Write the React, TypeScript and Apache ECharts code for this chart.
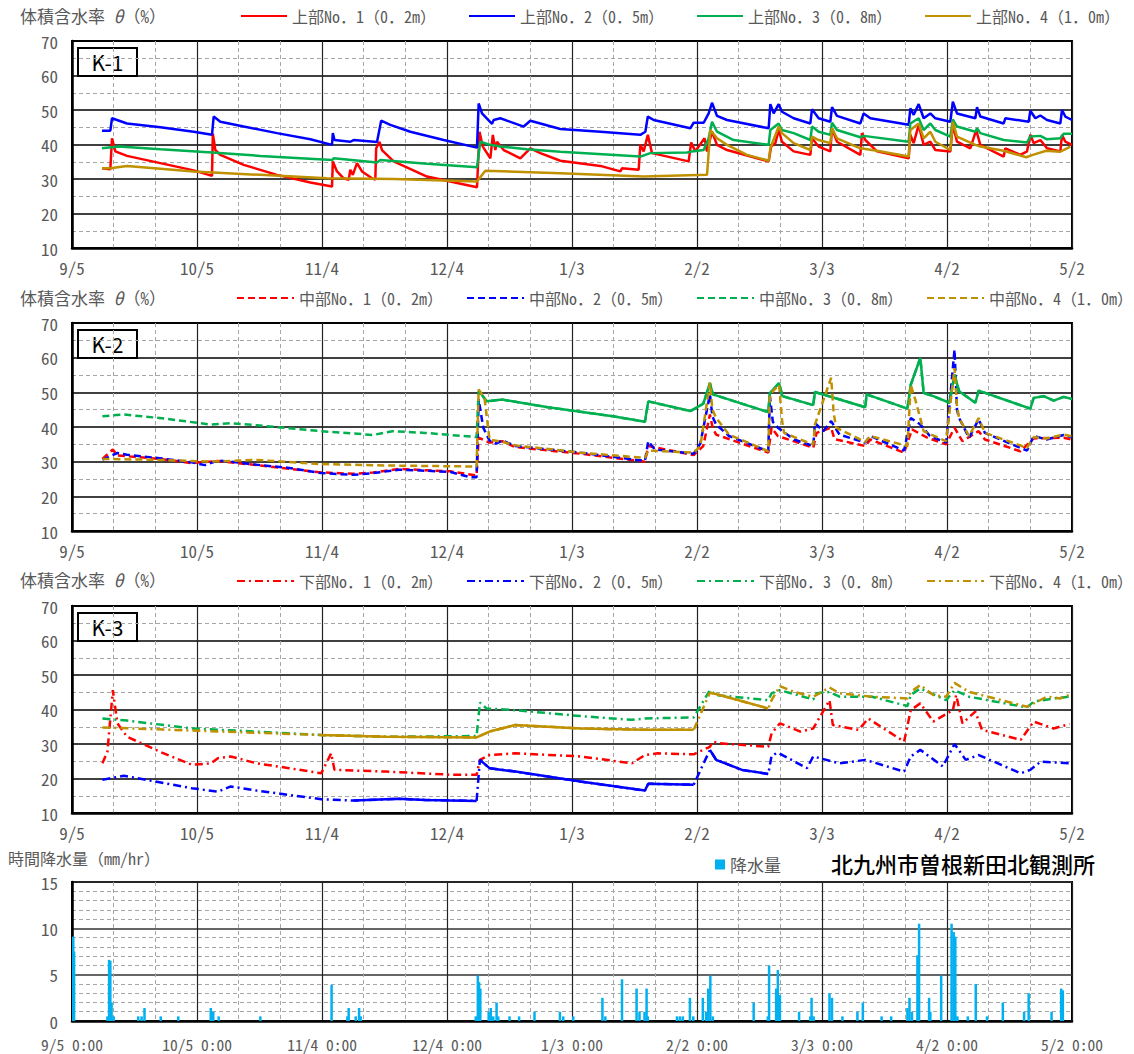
import React, { useEffect, useRef } from "react";
import * as echarts from "echarts";

// x = days since 9/5 0:00 (tick every 30 days)
const DAY_TICKS = ["9/5", "10/5", "11/4", "12/4", "1/3", "2/2", "3/3", "4/2", "5/2"];
const RAIN_TICKS = ["9/5 0:00", "10/5 0:00", "11/4 0:00", "12/4 0:00", "1/3 0:00", "2/2 0:00", "3/3 0:00", "4/2 0:00", "5/2 0:00"];

const K1_NAMES = ["上部No．1（0．2m）", "上部No．2（0．5m）", "上部No．3（0．8m）", "上部No．4（1．0m）"];
const K2_NAMES = ["中部No．1（0．2m）", "中部No．2（0．5m）", "中部No．3（0．8m）", "中部No．4（1．0m）"];
const K3_NAMES = ["下部No．1（0．2m）", "下部No．2（0．5m）", "下部No．3（0．8m）", "下部No．4（1．0m）"];
const RAIN_NAME = "降水量";

// ---- K-1 (upper) ----
const k1No1 = [[7.2,33.1],[9.2,32.8],[9.6,41.8],[10.0,39.9],[10.4,38.0],[13.2,36.7],[21.2,34.6],[29.2,32.5],[33.6,30.9],[33.8,43.1],[34.4,38.4],[35.6,37.0],[41.2,34.1],[49.2,31.2],[57.2,29.0],[62.4,27.8],[62.6,35.1],[63.6,32.2],[65.2,30.2],[66.4,29.8],[66.8,32.7],[67.4,31.2],[68.4,34.6],[69.6,32.2],[72.0,30.2],[72.8,29.8],[73.0,38.9],[73.8,40.8],[74.4,38.4],[77.2,35.1],[85.2,30.7],[97.2,27.6],[97.8,43.7],[98.6,39.4],[100.4,36.0],[101.0,42.8],[101.6,38.4],[102.0,40.8],[103.6,38.4],[107.6,36.0],[110.0,38.9],[112.4,37.5],[117.2,35.3],[126.8,33.8],[131.6,32.2],[132.0,33.1],[136.0,32.7],[136.4,39.9],[137.2,38.0],[138.2,42.8],[139.2,37.5],[148.0,35.1],[148.6,40.6],[149.6,38.0],[151.8,41.8],[152.4,38.0],[153.6,43.7],[154.8,39.9],[157.2,38.4],[167.2,35.1],[167.8,39.4],[168.8,40.4],[169.6,44.2],[170.4,40.8],[173.2,38.0],[177.2,37.0],[177.6,41.8],[179.2,39.4],[182.0,38.0],[182.4,44.7],[183.6,40.8],[189.2,37.0],[189.6,43.3],[190.4,41.3],[193.2,38.0],[200.8,36.0],[201.2,42.8],[202.0,40.4],[203.2,45.7],[204.4,39.9],[206.0,40.8],[207.2,38.4],[210.8,38.0],[211.4,45.7],[212.4,40.8],[215.6,38.9],[217.0,44.2],[218.0,39.9],[223.6,36.5],[224.0,38.9],[227.6,37.0],[229.2,38.0],[230.0,42.8],[230.8,40.4],[232.4,41.3],[234.0,38.9],[237.2,38.0],[237.6,42.8],[238.4,40.8],[240.0,39.9]];
const k1No2 = [[7.2,44.0],[9.2,44.0],[9.6,47.6],[10.8,47.1],[13.2,46.1],[21.2,45.0],[29.2,43.7],[33.6,42.8],[34.0,48.1],[35.6,46.6],[41.2,45.2],[49.2,43.3],[57.2,41.5],[62.4,39.9],[62.6,43.3],[63.0,41.3],[66.8,40.8],[67.6,41.3],[73.2,40.7],[74.2,46.9],[76.4,45.7],[81.2,43.7],[89.2,41.3],[97.2,39.1],[97.6,51.9],[98.4,49.0],[100.8,46.0],[101.2,47.1],[102.8,47.6],[108.4,45.2],[110.0,46.9],[117.2,44.5],[126.8,43.7],[136.4,42.8],[137.6,43.7],[138.2,48.1],[139.6,47.1],[148.4,44.7],[149.2,46.3],[151.6,46.3],[152.8,49.0],[153.6,52.1],[154.8,48.3],[157.2,47.1],[167.2,44.7],[167.6,51.7],[168.4,49.0],[169.6,51.7],[170.4,49.5],[173.2,47.6],[177.2,46.1],[177.6,50.2],[179.2,47.6],[182.0,46.6],[182.4,50.8],[183.6,48.3],[189.2,46.1],[190.0,49.0],[191.6,47.6],[200.8,45.7],[201.2,50.5],[202.0,48.6],[203.2,51.7],[204.4,47.6],[206.0,49.0],[207.2,47.6],[210.8,46.6],[211.4,52.4],[212.4,49.0],[216.8,47.6],[217.2,50.8],[218.0,48.1],[223.6,46.1],[224.0,47.6],[229.6,46.6],[230.0,49.8],[231.2,47.6],[232.4,48.4],[234.0,47.1],[237.2,46.1],[237.6,50.0],[238.4,48.1],[240.0,47.1]];
const k1No3 = [[7.2,38.9],[11.2,39.4],[21.2,38.6],[33.6,37.7],[45.2,36.7],[62.4,35.5],[62.8,36.0],[73.2,34.8],[74.0,35.5],[85.2,34.4],[97.2,33.4],[98.0,40.8],[100.4,39.9],[102.8,39.4],[109.2,38.6],[117.2,37.9],[136.4,36.5],[138.8,37.5],[147.6,37.7],[148.8,38.0],[151.6,38.4],[152.8,41.8],[153.6,46.6],[154.8,43.7],[158.8,41.3],[167.2,39.9],[167.6,44.2],[169.6,46.1],[170.4,44.2],[173.2,43.3],[177.2,41.3],[177.6,45.2],[179.2,43.7],[182.0,42.8],[182.4,46.3],[183.6,44.2],[189.2,42.1],[190.0,42.5],[200.8,40.8],[201.2,46.1],[203.2,47.6],[204.4,44.2],[206.0,46.1],[207.2,44.2],[210.8,42.3],[211.4,47.3],[212.4,45.2],[216.8,43.7],[217.2,44.7],[218.0,43.3],[223.6,41.3],[229.2,40.6],[230.0,42.3],[232.4,42.5],[234.0,41.5],[237.2,41.8],[238.0,43.1],[240.0,43.1]];
const k1No4 = [[7.2,33.1],[9.2,33.1],[13.2,33.8],[29.2,32.2],[45.2,31.2],[61.2,30.2],[77.2,30.0],[97.2,29.3],[99.2,32.4],[117.2,31.7],[137.2,30.7],[152.4,31.2],[153.2,44.2],[154.8,41.8],[157.2,39.9],[162.0,37.0],[167.2,35.3],[167.6,38.9],[169.6,45.2],[170.4,43.3],[173.2,40.4],[177.2,38.4],[177.6,42.3],[179.2,41.3],[182.0,40.4],[182.4,44.7],[183.6,41.8],[189.2,38.9],[193.2,38.2],[200.8,36.5],[201.2,44.2],[203.2,46.1],[204.4,41.8],[206.0,43.7],[207.2,40.8],[210.8,38.4],[211.4,46.6],[212.4,42.3],[216.8,39.9],[218.0,39.4],[223.6,38.2],[229.0,36.3],[230.6,37.0],[233.8,38.2],[237.2,37.9],[239.6,39.4]];

// ---- K-2 (middle) ----
const k2No1 = [[7.3,30.8],[9.8,33.5],[10.9,31.8],[21.0,30.8],[28.7,29.6],[35.0,30.2],[44.3,29.0],[59.8,26.9],[67.6,26.5],[72.3,26.9],[78.5,27.9],[90.9,27.2],[97.1,26.0],[97.6,36.9],[100.2,35.5],[103.3,35.9],[106.4,34.2],[122.0,32.3],[137.5,30.0],[138.3,34.5],[149.2,31.9],[151.5,34.5],[153.1,43.6],[153.8,39.5],[154.6,37.8],[167.1,32.6],[167.9,39.8],[169.4,37.4],[177.9,34.0],[178.7,38.3],[182.2,39.8],[183.0,36.5],[190.4,34.5],[191.6,36.4],[199.7,32.6],[201.6,39.3],[205.3,36.9],[209.8,35.0],[211.8,39.8],[213.7,35.9],[217.6,38.8],[219.1,36.4],[227.6,33.0],[230.8,36.7],[238.0,36.9],[240.0,36.4]];
const k2No2 = [[7.3,30.6],[10.9,32.5],[13.2,32.0],[21.0,31.0],[28.7,29.8],[31.9,29.0],[35.0,30.3],[38.1,30.0],[44.3,29.1],[52.1,28.2],[59.8,26.7],[67.6,26.2],[72.3,26.7],[78.5,27.7],[84.7,27.4],[90.9,27.0],[95.6,25.5],[97.1,25.5],[97.6,48.0],[98.7,39.8],[100.2,36.1],[101.8,35.2],[103.3,36.1],[106.4,34.5],[122.0,32.6],[137.5,30.2],[138.3,35.9],[139.9,33.5],[149.2,32.3],[150.8,35.2],[153.1,49.4],[153.7,43.0],[154.6,40.7],[157.7,37.4],[167.1,33.0],[167.5,48.9],[168.2,41.5],[169.4,39.8],[173.3,36.4],[177.9,34.5],[178.3,41.2],[180.3,38.8],[182.2,41.7],[184.2,37.8],[190.4,35.5],[191.6,37.4],[199.7,33.2],[201.3,42.6],[203.6,40.7],[205.9,37.4],[209.8,35.5],[211.8,62.3],[212.4,45.0],[212.9,42.6],[215.3,36.9],[217.6,42.2],[219.1,38.3],[229.2,33.2],[230.8,37.4],[233.9,36.4],[238.0,37.7],[240.0,37.1]];
const k2No3 = [[7.3,43.1],[12.4,43.6],[21.0,42.6],[33.4,40.7],[38.1,41.1],[44.3,40.5],[59.8,38.8],[72.3,37.7],[76.9,38.8],[84.7,38.3],[97.1,37.1],[97.6,50.5],[99.5,47.4],[103.3,47.9],[114.2,45.7],[129.8,43.1],[137.5,41.5],[138.3,47.4],[148.4,44.6],[151.5,46.7],[153.1,52.7],[153.8,49.4],[167.1,44.3],[167.5,49.8],[169.7,52.7],[170.5,48.9],[177.9,46.3],[178.3,50.1],[190.4,45.7],[190.7,49.4],[200.5,45.3],[201.3,52.2],[203.6,59.9],[204.4,49.8],[206.7,48.9],[210.6,47.0],[211.8,55.1],[212.9,50.3],[216.8,47.0],[217.6,50.5],[230.0,45.3],[230.8,48.4],[233.2,48.9],[235.6,47.6],[238.0,48.7],[240.0,48.1]];
const k2No4 = [[7.3,30.8],[21.0,30.5],[33.4,30.0],[44.3,30.5],[59.8,29.3],[75.4,28.9],[97.1,28.6],[97.6,50.8],[99.0,48.4],[100.2,36.4],[103.3,35.7],[106.4,34.7],[122.0,32.6],[137.5,31.1],[138.3,33.2],[149.2,32.6],[150.8,34.5],[153.1,52.7],[153.7,45.0],[154.6,42.6],[157.7,37.8],[167.1,33.0],[167.5,49.4],[169.7,52.2],[170.4,42.0],[170.9,38.3],[177.9,34.9],[178.3,40.7],[182.2,54.2],[182.8,44.0],[183.4,39.8],[190.4,35.7],[191.6,37.4],[200.5,34.5],[201.3,52.2],[202.5,47.4],[204.4,38.8],[209.8,35.9],[211.8,57.0],[212.4,46.0],[212.9,42.6],[215.3,37.4],[217.6,42.6],[219.1,38.3],[229.2,34.0],[230.8,37.1],[233.9,36.7],[238.0,37.8],[240.0,37.3]];

// ---- K-3 (lower) ----
const k3No1 = [[7.3,24.4],[8.5,27.8],[9.8,45.6],[10.9,36.0],[13.2,32.1],[21.0,27.8],[28.7,24.0],[33.4,24.4],[35.0,25.9],[38.1,26.4],[44.3,24.4],[52.1,23.0],[59.8,21.5],[62.2,27.3],[63.0,22.5],[75.4,22.0],[90.9,21.1],[97.1,21.1],[97.9,25.4],[100.2,26.8],[106.4,27.3],[122.0,26.4],[134.4,24.4],[137.5,26.8],[140.6,27.3],[149.2,27.0],[153.1,29.2],[153.8,30.7],[155.4,30.2],[167.1,29.2],[167.9,33.1],[169.9,36.0],[174.8,33.6],[177.9,34.5],[181.8,42.7],[182.6,35.5],[188.8,34.1],[191.1,37.4],[199.7,30.7],[201.3,39.8],[203.6,41.8],[206.7,36.5],[211.4,39.8],[212.2,44.2],[213.7,36.0],[216.8,39.4],[218.4,34.1],[227.7,31.2],[230.8,36.5],[235.6,34.5],[239.4,35.8]];
const k3No2 = [[7.3,19.6],[12.4,20.8],[28.7,17.2],[35.0,16.2],[38.1,17.7],[44.3,16.5],[59.8,14.0],[67.6,13.6],[78.5,14.1],[84.7,13.8],[97.1,13.5],[97.9,25.4],[100.2,23.0],[106.4,22.0],[122.0,19.1],[137.5,16.5],[138.3,18.5],[149.2,18.2],[153.1,28.3],[154.6,25.4],[160.8,22.5],[167.1,21.3],[167.9,26.6],[169.4,27.5],[176.4,23.0],[177.9,26.4],[184.2,24.4],[190.4,25.4],[199.7,22.0],[201.3,26.4],[203.6,28.3],[209.0,23.5],[211.8,30.0],[214.5,25.4],[217.6,26.8],[227.7,21.5],[230.0,22.5],[232.5,24.9],[239.4,24.4]];
const k3No3 = [[7.3,37.4],[13.2,36.8],[28.7,34.5],[44.3,33.6],[59.8,32.6],[75.4,32.1],[97.1,32.3],[97.9,42.0],[99.5,40.3],[106.4,39.8],[122.0,38.1],[134.4,37.0],[137.5,37.4],[149.2,37.7],[153.1,45.6],[154.6,44.2],[167.1,42.7],[167.9,44.7],[169.9,45.6],[177.9,42.9],[178.7,44.7],[181.8,45.1],[184.2,43.7],[192.0,43.7],[200.5,41.0],[201.3,44.2],[203.6,46.1],[209.8,42.7],[211.8,45.6],[215.3,43.7],[229.2,40.6],[230.8,42.3],[235.6,43.2],[239.4,43.7]];
const k3No4 = [[7.3,34.8],[28.7,33.9],[59.8,32.6],[75.4,32.1],[97.1,31.9],[100.2,33.6],[106.4,35.5],[114.2,35.0],[122.0,34.5],[137.5,34.1],[149.2,34.1],[153.1,44.9],[155.4,44.2],[167.1,40.3],[167.9,42.7],[169.9,46.8],[173.3,45.1],[177.9,43.7],[181.8,46.4],[184.2,44.7],[192.0,43.7],[200.5,43.2],[201.3,45.1],[203.6,47.1],[206.7,44.2],[209.8,43.7],[211.8,47.7],[215.3,45.1],[229.2,40.8],[234.0,43.7],[237.1,43.2],[239.4,44.2]];

// day ranges where the dense logger record reads as a continuous line
const K2_DENSE = [[], [], [[97.6, 240]], []];
const K3_DENSE = [[], [[67.6, 97.1], [97.9, 149.2], [153.1, 167.1]], [], [[59.8, 149.2], [153.1, 167.1]]];

// ---- hourly rainfall (mm/hr) ----
const rain = [[0.3,9.1],[0.5,7.5],[8.5,0.5],[8.9,6.6],[9.2,6.5],[9.5,2.0],[10.0,0.5],[15.9,0.5],[16.7,0.5],[17.4,1.4],[21.3,0.5],[25.5,0.5],[33.3,1.4],[33.9,1.0],[35.2,0.5],[45.2,0.5],[62.3,3.9],[66.1,0.5],[66.4,1.4],[68.1,0.5],[68.9,1.4],[69.3,0.5],[96.9,0.5],[97.4,4.9],[97.7,4.2],[98.0,3.5],[100.0,1.0],[100.5,1.4],[101.1,0.5],[101.9,2.0],[102.3,0.5],[105.0,0.5],[107.3,0.5],[111.0,1.0],[117.1,1.0],[117.9,0.5],[120.3,0.5],[127.3,2.5],[128.0,0.5],[132.0,4.5],[135.5,3.5],[136.2,1.0],[137.4,1.0],[137.9,3.5],[138.2,0.5],[145.2,0.5],[145.9,0.5],[146.6,0.5],[148.3,2.5],[149.1,0.5],[151.4,2.5],[152.2,1.0],[152.7,3.5],[153.2,4.9],[153.8,0.5],[163.6,2.0],[167.0,0.5],[167.3,6.0],[169.0,3.5],[169.4,5.5],[169.9,2.8],[174.5,1.0],[177.2,0.5],[177.5,2.5],[178.0,0.5],[181.8,3.0],[182.4,2.5],[184.9,0.5],[188.5,1.0],[189.8,2.0],[194.3,0.5],[196.6,0.5],[200.5,1.4],[201.0,2.5],[201.6,1.0],[202.9,7.1],[203.3,10.5],[205.7,2.5],[206.0,1.0],[208.6,4.9],[211.1,10.5],[211.6,9.6],[212.0,9.1],[212.5,0.5],[215.0,0.5],[216.9,4.0],[219.6,0.5],[223.4,2.0],[228.5,1.0],[229.6,3.0],[235.1,1.0],[237.4,3.5],[237.8,3.3]];

const COLORS = ["#ff0000", "#0000ff", "#00b050", "#bf9000"];
const RAIN_COLOR = "#00b0f0";
const FONT = '"Noto Sans Mono CJK JP", "Noto Sans CJK JP", monospace';
const GRAY = "#595959";

export default function App() {
  const ref = useRef<HTMLDivElement>(null);
  useEffect(() => {
    if (!ref.current) return;
    const chart = echarts.init(ref.current, undefined, { renderer: "svg" });

    const grids = [
      { top: 41, height: 207 },
      { top: 323, height: 208 },
      { top: 606, height: 207 },
      { top: 882, height: 139 },
    ].map((g) => ({ left: 72, width: 1000, top: g.top, height: g.height, show: true, borderColor: "#000", borderWidth: 2, backgroundColor: "#fff" }));

    const xAxes = [0, 1, 2, 3].map((i) => ({
      type: "value",
      gridIndex: i,
      min: 0,
      max: 240,
      interval: 30,
      axisLine: { show: true, lineStyle: { color: "#000", width: 2.5 } },
      axisTick: { show: false },
      minorTick: { show: false, splitNumber: 3 },
      splitLine: { show: true, lineStyle: { color: "#222", width: 1.2 } },
      minorSplitLine: { show: true, lineStyle: { color: "#a6a6a6", width: 1, type: [4, 3] } },
      axisLabel: {
        color: GRAY,
        fontFamily: FONT,
        fontSize: i === 3 ? 15.5 : 17,
        lineHeight: i === 3 ? 15 : 16,
        margin: i === 3 ? 15 : 11,
        showMinLabel: true,
        showMaxLabel: true,
        formatter: (v: number) => (i === 3 ? RAIN_TICKS : DAY_TICKS)[Math.round(v / 30)] ?? "",
      },
    }));

    const yAxes = [0, 1, 2, 3].map((i) => ({
      type: "value",
      gridIndex: i,
      min: i === 3 ? 0 : 10,
      max: i === 3 ? 15 : 70,
      interval: i === 3 ? 5 : 10,
      axisLine: { show: true, lineStyle: { color: "#000", width: 2.5 } },
      axisTick: { show: false },
      minorTick: { show: false, splitNumber: i === 3 ? 5 : 2 },
      splitLine: { show: true, lineStyle: { color: i === 3 ? "#333" : "#000", width: 1.5 } },
      minorSplitLine: { show: true, lineStyle: { color: "#a6a6a6", width: 1, type: [4, 3] } },
      axisLabel: { color: GRAY, fontFamily: FONT, fontSize: 17, lineHeight: 14, margin: 14 },
    }));

    const series: any[] = [];
    const mk = (names: string[], datas: number[][][], idx: number, dash: any, dense?: number[][][]) => {
      names.forEach((name, k) => {
        series.push({
          type: "line",
          name,
          data: datas[k],
          xAxisIndex: idx,
          yAxisIndex: idx,
          symbol: "none",
          showSymbol: false,
          lineStyle: { color: COLORS[k], width: 2.5, type: dash },
          itemStyle: { color: COLORS[k] },
          emphasis: { disabled: true },
        });
        (dense?.[k] ?? []).forEach(([a, b], j) => {
          series.push({
            type: "line",
            name: `${name}-dense${j}`,
            data: datas[k].filter((p) => p[0] >= a && p[0] <= b),
            xAxisIndex: idx,
            yAxisIndex: idx,
            symbol: "none",
            showSymbol: false,
            lineStyle: { color: COLORS[k], width: 2.5, type: "solid" },
            itemStyle: { color: COLORS[k] },
            emphasis: { disabled: true },
          });
        });
      });
    };
    mk(K1_NAMES, [k1No1, k1No2, k1No3, k1No4], 0, "solid");
    mk(K2_NAMES, [k2No1, k2No2, k2No3, k2No4], 1, [7, 4], K2_DENSE);
    mk(K3_NAMES, [k3No1, k3No2, k3No3, k3No4], 2, [8, 4, 2, 4], K3_DENSE);
    series.push({
      type: "bar",
      name: RAIN_NAME,
      data: rain,
      xAxisIndex: 3,
      yAxisIndex: 3,
      barWidth: 2.5,
      itemStyle: { color: RAIN_COLOR },
      emphasis: { disabled: true },
    });

    const legendText = { color: GRAY, fontSize: 16, fontFamily: FONT };
    const lineLegend = { itemHeight: 14, itemStyle: { opacity: 0 } };
    const legends = [
      { data: K1_NAMES, left: 240, top: 8, itemWidth: 46, itemGap: 32, ...lineLegend },
      { data: K2_NAMES, left: 236, top: 290, itemWidth: 57, itemGap: 23, ...lineLegend },
      { data: K3_NAMES, left: 236, top: 573, itemWidth: 57, itemGap: 23, ...lineLegend },
      { data: [RAIN_NAME], left: 715, top: 856, itemWidth: 10, itemHeight: 10, icon: "rect", textStyle: { ...legendText, fontSize: 17 } },
    ].map((l: any) => ({ orient: "horizontal", padding: 0, selectedMode: false, textStyle: legendText, ...l }));

    const title = (y: number) => ({
      type: "text",
      left: 20,
      top: y - 10,
      style: {
        text: "{a|体積含水率 }{b|θ}{a|（%）}",
        rich: {
          a: { fontSize: 17, fontFamily: FONT, fill: GRAY, color: GRAY },
          b: { fontSize: 17, fontFamily: FONT, fill: GRAY, color: GRAY, fontStyle: "italic" },
        },
      },
    });

    const kBox = (label: string, y: number) => ({
      type: "group",
      left: 77,
      top: y,
      children: [
        { type: "rect", shape: { x: 0, y: 0, width: 59, height: 28 }, style: { fill: "#fff", stroke: "#000", lineWidth: 2 } },
        { type: "text", x: 29.5, y: 14, style: { text: label, fontSize: 21, fontFamily: '"Noto Sans CJK JP", sans-serif', fill: "#000", align: "center", verticalAlign: "middle" } },
      ],
    });

    chart.setOption({
      animation: false,
      backgroundColor: "#fff",
      grid: grids,
      xAxis: xAxes,
      yAxis: yAxes,
      legend: legends,
      series,
      graphic: [
        title(17),
        title(299),
        title(581),
        { type: "text", left: 8, top: 849, style: { text: "時間降水量（mm/hr）", fontSize: 16, lineHeight: 18, fontFamily: FONT, fill: GRAY } },
        { type: "text", left: 831, top: 852, style: { text: "北九州市曽根新田北観測所", fontSize: 22, fontWeight: 500, fontFamily: '"Noto Sans CJK JP", sans-serif', fill: "#000" } },
        kBox("K-1", 47),
        kBox("K-2", 329),
        kBox("K-3", 612),
      ],
    });
    return () => chart.dispose();
  }, []);

  return <div ref={ref} style={{ position: "absolute", left: 0, top: 0, width: 1134, height: 1054 }} />;
}
